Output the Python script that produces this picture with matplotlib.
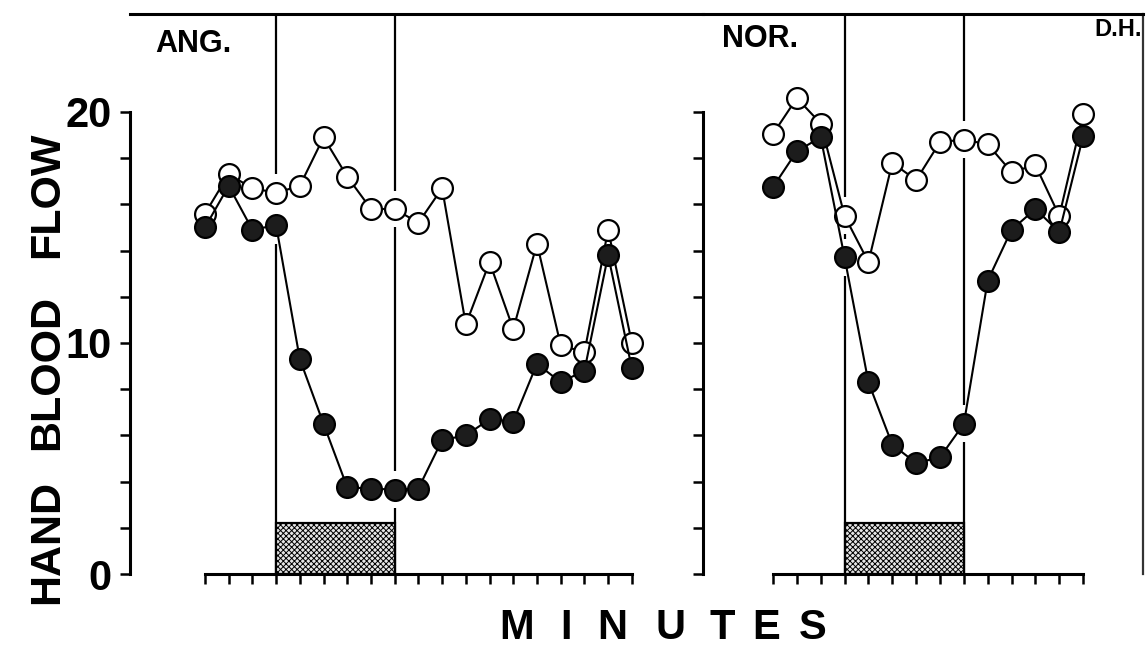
import numpy as np
import matplotlib
matplotlib.use('Agg')
import matplotlib.pyplot as plt
from matplotlib import font_manager

# hand blood flow readings, one per minute tick
ang_open = [15.6, 17.3, 16.7, 16.5, 16.8, 18.9, 17.2, 15.8, 15.8, 15.2, 16.7,
            10.8, 13.5, 10.6, 14.3, 9.9, 9.6, 14.9, 10.0]
ang_filled = [15.0, 16.8, 14.9, 15.1, 9.3, 6.5, 3.75, 3.7, 3.65, 3.7, 5.8,
              6.0, 6.7, 6.6, 9.1, 8.3, 8.8, 13.8, 8.9]
nor_open = [19.05, 20.6, 19.5, 15.5, 13.5, 17.8, 17.05, 18.7, 18.8, 18.6,
            17.4, 17.7, 15.5, 19.9]
nor_filled = [16.75, 18.3, 18.9, 13.7, 8.3, 5.6, 4.8, 5.05, 6.5, 12.7,
              14.9, 15.8, 14.8, 18.95]

events = [3, 8]          # start / stop of infusion (tick index)
infusion_height = 2.2
y_ticks = list(range(0, 21, 2))
y_ticklabels = ['0', '', '', '', '', '10', '', '', '', '', '20']

Y_TOP = 24.24
W, H = 1148, 648

names = {f.name for f in font_manager.fontManager.ttflist}
narrow = 'Liberation Sans Narrow' if 'Liberation Sans Narrow' in names else 'Liberation Sans'
plt.rcParams['hatch.linewidth'] = 0.7

fig = plt.figure(figsize=(W / 100, H / 100), dpi=100)
ax1 = fig.add_axes([130 / W, 74 / H, 573 / W, 560 / H])
ax2 = fig.add_axes([703 / W, 74 / H, 440 / W, 560 / H])


def panel(ax, opn, fil, x0, x1, last):
    n = len(opn)
    x = np.arange(n)
    ax.plot(x, opn, '-o', color='k', lw=1.5, ms=15, mfc='white', mec='k',
            mew=1.6, zorder=4, clip_on=False)
    ax.plot(x, fil, '-o', color='k', lw=1.5, ms=15, mfc='#1c1c1c', mec='k',
            mew=1.6, zorder=5, clip_on=False)
    ax.bar((events[0] + events[1]) / 2, infusion_height, width=events[1] - events[0],
           facecolor='#e6e6e6', edgecolor='k', hatch='xxxxxx', lw=1.6, zorder=2)
    # event lines, broken where they pass the circles
    pad = 0.8
    for e in events:
        lo = 0
        segs = []
        for v in sorted([opn[e], fil[e]]):
            if v - pad > lo:
                segs.append((lo, v - pad))
            lo = max(lo, v + pad)
        segs.append((lo, Y_TOP))
        ax.vlines([e] * len(segs), [s[0] for s in segs], [s[1] for s in segs],
                  colors='k', lw=1.6, zorder=1)

    ax.set_xlim(x0, x1)
    ax.set_ylim(0, Y_TOP)
    ax.set_xticks(range(n))
    ax.set_xticklabels([])
    ax.set_yticks(y_ticks)
    ax.tick_params(axis='both', direction='out', length=7, width=1.8, color='k')
    ax.spines['left'].set_bounds(0, 20)
    ax.spines['bottom'].set_bounds(0, n - 1)
    for s in ['left', 'bottom', 'top']:
        ax.spines[s].set_linewidth(2.2)
    ax.spines['right'].set_visible(last)
    ax.spines['right'].set_linewidth(1.6)
    ax.spines['right'].set_color('#333333')
    ax.patch.set_alpha(0)


panel(ax1, ang_open, ang_filled, -3.16, 21.0, False)
panel(ax2, nor_open, nor_filled, -2.935, 15.51, True)

ax1.set_yticklabels(y_ticklabels, fontsize=30, fontweight='bold', family=narrow)
ax1.tick_params(axis='y', pad=6)
ax2.set_yticklabels([])

# panel labels
fig.text(155 / W, 1 - 44 / H, 'ANG.', fontsize=22, fontweight='bold',
         family='Liberation Sans', va='center', ha='left')
fig.text(722 / W, 1 - 39 / H, 'NOR.', fontsize=22, fontweight='bold',
         family='Liberation Sans', va='center', ha='left')
fig.text(1142 / W, 1 - 30 / H, 'D.H.', fontsize=17, fontweight='bold',
         family='Liberation Sans', va='center', ha='right')

# axis titles
for word, yc in [('HAND', 542), ('BLOOD', 372), ('FLOW', 195)]:
    fig.text(47 / W, 1 - yc / H, word, rotation=90, fontsize=31, fontweight='bold',
             family=narrow, ha='center', va='center')

for letter, xc in zip('MINUTES', [517, 566, 612, 670, 722, 766, 813]):
    fig.text(xc / W, 1 - 628 / H, letter, fontsize=30, fontweight='bold',
             family='Liberation Sans', ha='center', va='center')

plt.savefig('out.png', dpi=100)
